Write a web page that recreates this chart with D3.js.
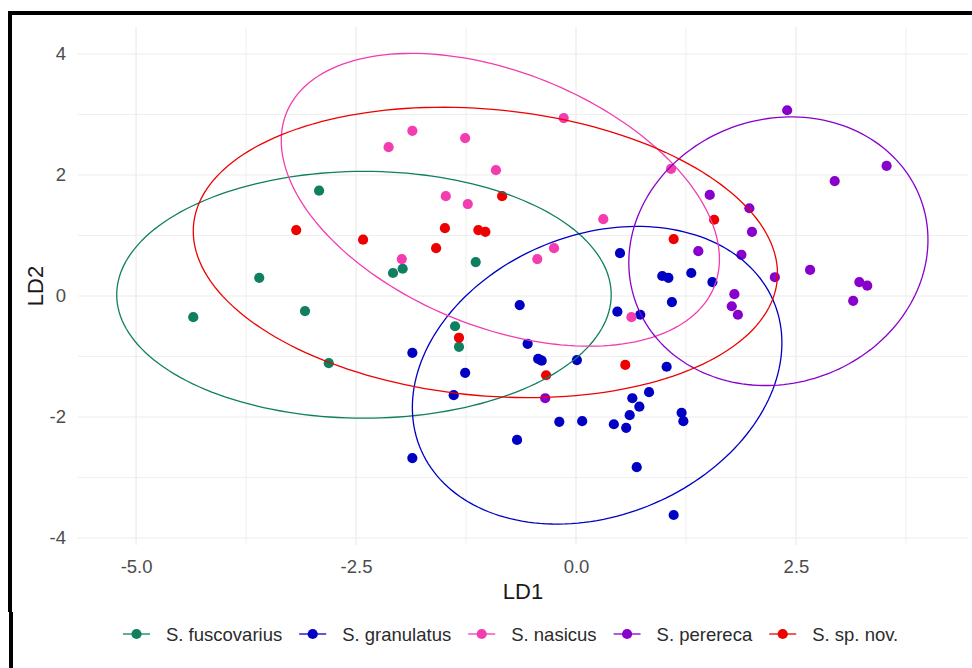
<!DOCTYPE html>
<html>
<head>
<meta charset="utf-8">
<script src="https://cdnjs.cloudflare.com/ajax/libs/d3/7.8.5/d3.min.js"></script>
<style>
  html, body { margin: 0; padding: 0; background: #fff; }
  svg { display: block; font-family: "Liberation Sans", Arial, sans-serif; }
</style>
</head>
<body>
<svg id="chart" width="972" height="668"></svg>
<script>
'use strict';

var species = ['S. fuscovarius', 'S. granulatus', 'S. nasicus', 'S. perereca', 'S. sp. nov.'];

// LD1, LD2 scores per group
var fuscovarius = [
  [-4.35, -0.35], [-3.60, 0.30], [-3.08, -0.25], [-2.92, 1.74], [-2.81, -1.11],
  [-2.08, 0.38], [-1.97, 0.45], [-1.14, 0.56], [-1.375, -0.50], [-1.33, -0.84]
];
var granulatus = [
  [-1.86, -0.94], [-1.86, -2.68], [-1.26, -1.27], [-1.39, -1.64], [-0.64, -0.15],
  [-0.55, -0.79], [-0.43, -1.04], [-0.39, -1.07], [0.01, -1.06], [-0.19, -2.08],
  [0.07, -2.07], [-0.67, -2.38], [0.47, -0.26], [0.73, -0.31], [1.09, -0.10],
  [1.03, -1.17], [0.83, -1.59], [0.64, -1.69], [0.72, -1.83], [0.61, -1.97],
  [0.43, -2.12], [0.57, -2.18], [1.20, -1.93], [1.22, -2.07], [0.69, -2.83],
  [1.11, -3.62], [0.50, 0.71], [0.98, 0.33], [1.05, 0.30], [1.31, 0.38], [1.55, 0.23]
];
var nasicus = [
  [-2.13, 2.46], [-1.86, 2.73], [-1.26, 2.61], [-0.91, 2.08], [-1.48, 1.65],
  [-1.23, 1.52], [-1.98, 0.61], [-0.14, 2.94], [0.31, 1.27], [1.08, 2.10],
  [-0.25, 0.79], [-0.44, 0.61], [0.63, -0.35]
];
var perereca = [
  [2.40, 3.07], [3.53, 2.15], [2.94, 1.90], [1.52, 1.67], [1.97, 1.45],
  [2.00, 1.06], [1.39, 0.74], [1.88, 0.68], [2.26, 0.31], [2.66, 0.43],
  [3.22, 0.23], [3.31, 0.17], [3.15, -0.08], [1.80, 0.03], [1.77, -0.17],
  [1.84, -0.31], [-0.35, -1.69]
];
var spNov = [
  [-3.18, 1.09], [-2.42, 0.93], [-1.59, 0.79], [-1.49, 1.12], [-1.11, 1.09],
  [-1.03, 1.06], [-0.84, 1.65], [1.11, 0.94], [1.57, 1.26], [-1.33, -0.69],
  [-0.34, -1.31], [0.56, -1.14]
];
var groups = [fuscovarius, granulatus, nasicus, perereca, spNov];

// 95% ellipses: centre, half extent along LD1 / LD2, correlation
var ellipseCentres = [[-2.41, 0.02], [0.24, -1.31], [-0.86, 1.59], [2.30, 0.74], [-1.03, 0.72]];
var ellipseSpread = [[2.81, 2.04], [2.10, 2.46], [2.49, 2.42], [1.70, 2.22], [3.32, 2.40]];
var ellipseCorr = [0.0, 0.217, -0.405, 0.085, -0.146];

var xTicks = [-5.0, -2.5, 0.0, 2.5];
var xMinor = [-3.75, -1.25, 1.25, 3.75];
var yTicks = [-4, -2, 0, 2, 4];
var yMinor = [-3, -1, 1, 3];

var colors = ['#0f7f5f', '#0000c4', '#f23cb0', '#8800cc', '#ee0000'];

var panel = {left: 78, right: 968, top: 27, bottom: 545};

var svg = d3.select('#chart');

var x = d3.scaleLinear().domain([-5.66, 4.455]).range([panel.left, panel.right]);
var y = d3.scaleLinear().domain([-4.116, 4.446]).range([panel.bottom, panel.top]);

// grid
var grid = svg.append('g').attr('class', 'grid');

grid.selectAll('line.vx')
  .data(xMinor.concat(xTicks))
  .enter().append('line')
  .attr('x1', function(d) { return x(d); })
  .attr('x2', function(d) { return x(d); })
  .attr('y1', panel.top)
  .attr('y2', panel.bottom)
  .attr('stroke', '#ebebeb')
  .attr('stroke-width', function(d) { return xTicks.indexOf(d) >= 0 ? 1.2 : 0.8; });

grid.selectAll('line.hy')
  .data(yMinor.concat(yTicks))
  .enter().append('line')
  .attr('x1', panel.left)
  .attr('x2', panel.right)
  .attr('y1', function(d) { return y(d); })
  .attr('y2', function(d) { return y(d); })
  .attr('stroke', '#ebebeb')
  .attr('stroke-width', function(d) { return yTicks.indexOf(d) >= 0 ? 1.2 : 0.8; });

// axes
var xAxis = svg.append('g')
  .attr('transform', 'translate(0,' + panel.bottom + ')')
  .call(d3.axisBottom(x).tickValues(xTicks).tickSize(0).tickPadding(15)
    .tickFormat(function(d) { return d3.format('.1f')(d).replace('\u2212', '-'); }));

var yAxis = svg.append('g')
  .attr('transform', 'translate(' + panel.left + ',0)')
  .call(d3.axisLeft(y).tickValues(yTicks).tickSize(0).tickPadding(12)
    .tickFormat(function(d) { return String(d); }));

[xAxis, yAxis].forEach(function(a) {
  a.select('.domain').remove();
  a.selectAll('text')
    .attr('fill', '#4d4d4d')
    .style('font-size', '18.5px')
    .style('font-family', '"Liberation Sans", Arial, sans-serif');
});

svg.append('text')
  .attr('x', (panel.left + panel.right) / 2)
  .attr('y', 599)
  .attr('text-anchor', 'middle')
  .attr('fill', '#1a1a1a')
  .style('font-size', '22px')
  .text('LD1');

svg.append('text')
  .attr('transform', 'translate(43,' + ((panel.top + panel.bottom) / 2) + ') rotate(-90)')
  .attr('text-anchor', 'middle')
  .attr('fill', '#1a1a1a')
  .style('font-size', '22px')
  .text('LD2');

// points
var pts = svg.append('g').attr('class', 'points');

groups.forEach(function(g, i) {
  pts.selectAll('circle.g' + i)
    .data(g)
    .enter().append('circle')
    .attr('class', 'g' + i)
    .attr('cx', function(d) { return x(d[0]); })
    .attr('cy', function(d) { return y(d[1]); })
    .attr('r', 5.1)
    .attr('fill', colors[i]);
});

// ellipses
var ellipseLine = d3.line()
  .x(function(d) { return x(d[0]); })
  .y(function(d) { return y(d[1]); });

var angles = d3.range(0, 2 * Math.PI + 0.001, Math.PI / 90);

svg.append('g').attr('class', 'ellipses')
  .selectAll('path')
  .data(species)
  .enter().append('path')
  .attr('fill', 'none')
  .attr('stroke', function(d, i) { return colors[i]; })
  .attr('stroke-width', 1.3)
  .attr('d', function(d, i) {
    var c = ellipseCentres[i];
    var s = ellipseSpread[i];
    var r = ellipseCorr[i];
    var k = Math.sqrt(1 - r * r);

    return ellipseLine(angles.map(function(t) {
      return [c[0] + s[0] * Math.cos(t), c[1] + s[1] * (r * Math.cos(t) + k * Math.sin(t))];
    }));
  });

// legend
var legend = svg.append('g').attr('class', 'legend');
var cursor = 123;

species.forEach(function(name, i) {
  var item = legend.append('g').attr('transform', 'translate(' + cursor + ',634)');

  item.append('line')
    .attr('x1', 0)
    .attr('x2', 27)
    .attr('stroke', colors[i])
    .attr('stroke-width', 1.3);

  item.append('circle')
    .attr('cx', 13.5)
    .attr('r', 5.1)
    .attr('fill', colors[i]);

  var label = item.append('text')
    .attr('x', 43)
    .attr('y', 7)
    .attr('fill', '#2b2b2b')
    .style('font-size', '18.5px')
    .text(name);

  cursor += 43 + label.node().getComputedTextLength() + 17;
});

// frame left over from the screenshot
svg.append('rect').attr('x', 8).attr('y', 11).attr('width', 964).attr('height', 4).attr('fill', '#000');
svg.append('rect').attr('x', 8).attr('y', 11).attr('width', 4).attr('height', 601).attr('fill', '#000');
svg.append('rect').attr('x', 9).attr('y', 612).attr('width', 4).attr('height', 56).attr('fill', '#000');
</script>
</body>
</html>
